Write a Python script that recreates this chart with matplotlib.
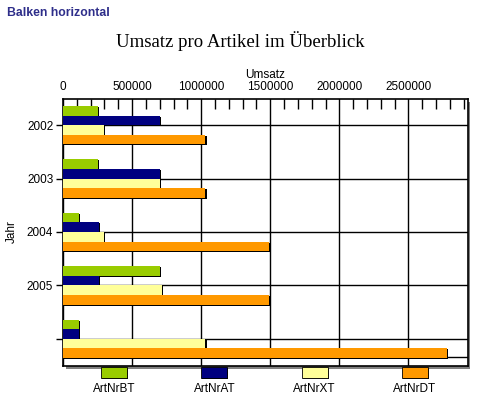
import matplotlib.pyplot as plt
import matplotlib.patheffects as pe
from matplotlib.patches import Rectangle
from matplotlib.ticker import MultipleLocator

# data
jahre = ["2002", "2003", "2004", "2005", ""]
serien = ["ArtNrBT", "ArtNrAT", "ArtNrXT", "ArtNrDT"]
artnr_bt = [255000, 255000, 118000, 699000, 118000]
artnr_at = [699000, 699000, 258000, 258000, 113000]
artnr_xt = [298000, 699000, 298000, 713000, 1031000]
artnr_dt = [1031000, 1031000, 1491000, 1491000, 2780000]
farben = ["#99CC00", "#000080", "#FFFF99", "#FF9900"]

plt.rcParams['font.family'] = ['Liberation Sans', 'DejaVu Sans']

fig = plt.figure(figsize=(4.81, 3.96), dpi=100)
W, H = 481, 396
x0, x1, y0, y1 = 63, 467.5, 99, 366
ax = fig.add_axes([x0 / W, 1 - y1 / H, (x1 - x0) / W, (y1 - y0) / H])

# grey shadow behind plot frame
fig.patches.append(Rectangle(((x0 + 3) / W, 1 - (y1 + 3) / H), (x1 - x0) / W, (y1 - y0) / H,
                             transform=fig.transFigure, facecolor="#808080", edgecolor="none", zorder=-1))

werte = [artnr_bt, artnr_at, artnr_xt, artnr_dt]
offs = [-0.27, -0.09, 0.09, 0.27]
shadow = [pe.SimplePatchShadow(offset=(0.75, -0.75), shadow_rgbFace="black", alpha=1), pe.Normal()]
pos = list(range(len(jahre)))
for w, o, c, s in zip(werte, offs, farben, serien):
    bars = ax.barh([p + o for p in pos], w, height=0.18, color=c, label=s, zorder=3)
    for b in bars:
        b.set_path_effects(shadow)

ax.set_xlim(0, 2927000)
ax.set_ylim(4.51, -0.49)
ax.xaxis.tick_top()
ax.xaxis.set_major_locator(MultipleLocator(500000))
ax.xaxis.set_minor_locator(MultipleLocator(100000))
ax.xaxis.set_major_formatter(lambda v, p: "%d" % v)
ax.tick_params(axis="x", which="major", direction="in", length=0, pad=4.5, labelsize=8.5)
ax.tick_params(axis="x", which="minor", direction="in", length=7, width=1, color="black")
ax.set_yticks(pos)
ax.set_yticklabels(jahre)
ax.tick_params(axis="y", direction="out", length=5, width=1, labelsize=8.5, pad=2)
ax.grid(True, which="major", color="black", linewidth=1, zorder=1)
ax.axhline(4.345, color="black", linewidth=1, zorder=1)
ax.set_axisbelow(True)
for sp in ax.spines.values():
    sp.set_linewidth(1.2)

fig.text(265 / W, 1 - 75 / H, "Umsatz", ha="center", va="center", fontsize=8.5)
fig.text(12 / W, 1 - 232 / H, "Jahr", rotation=90, ha="center", va="center", fontsize=8.5)

fig.text(240 / W, 1 - 41 / H, "Umsatz pro Artikel im Überblick", ha="center", va="center",
         fontsize=13.5, family=["Liberation Serif", "DejaVu Serif"])
fig.text(7 / W, 1 - 13 / H, "Balken horizontal", ha="left", va="center",
         fontsize=8.8, fontweight="bold", color="#2E2E8A")

# legend below: boxes with labels underneath
for i, (s, c) in enumerate(zip(serien, farben)):
    cx = 114 + i * 100.3
    r = Rectangle(((cx - 13) / W, 1 - 378 / H), 26 / W, 11 / H, transform=fig.transFigure,
                  facecolor=c, edgecolor="black", linewidth=0.6)
    r.set_path_effects(shadow)
    fig.patches.append(r)
    fig.text(cx / W, 1 - 389 / H, s, ha="center", va="center", fontsize=8.5)

fig.savefig("out.png", dpi=100)
